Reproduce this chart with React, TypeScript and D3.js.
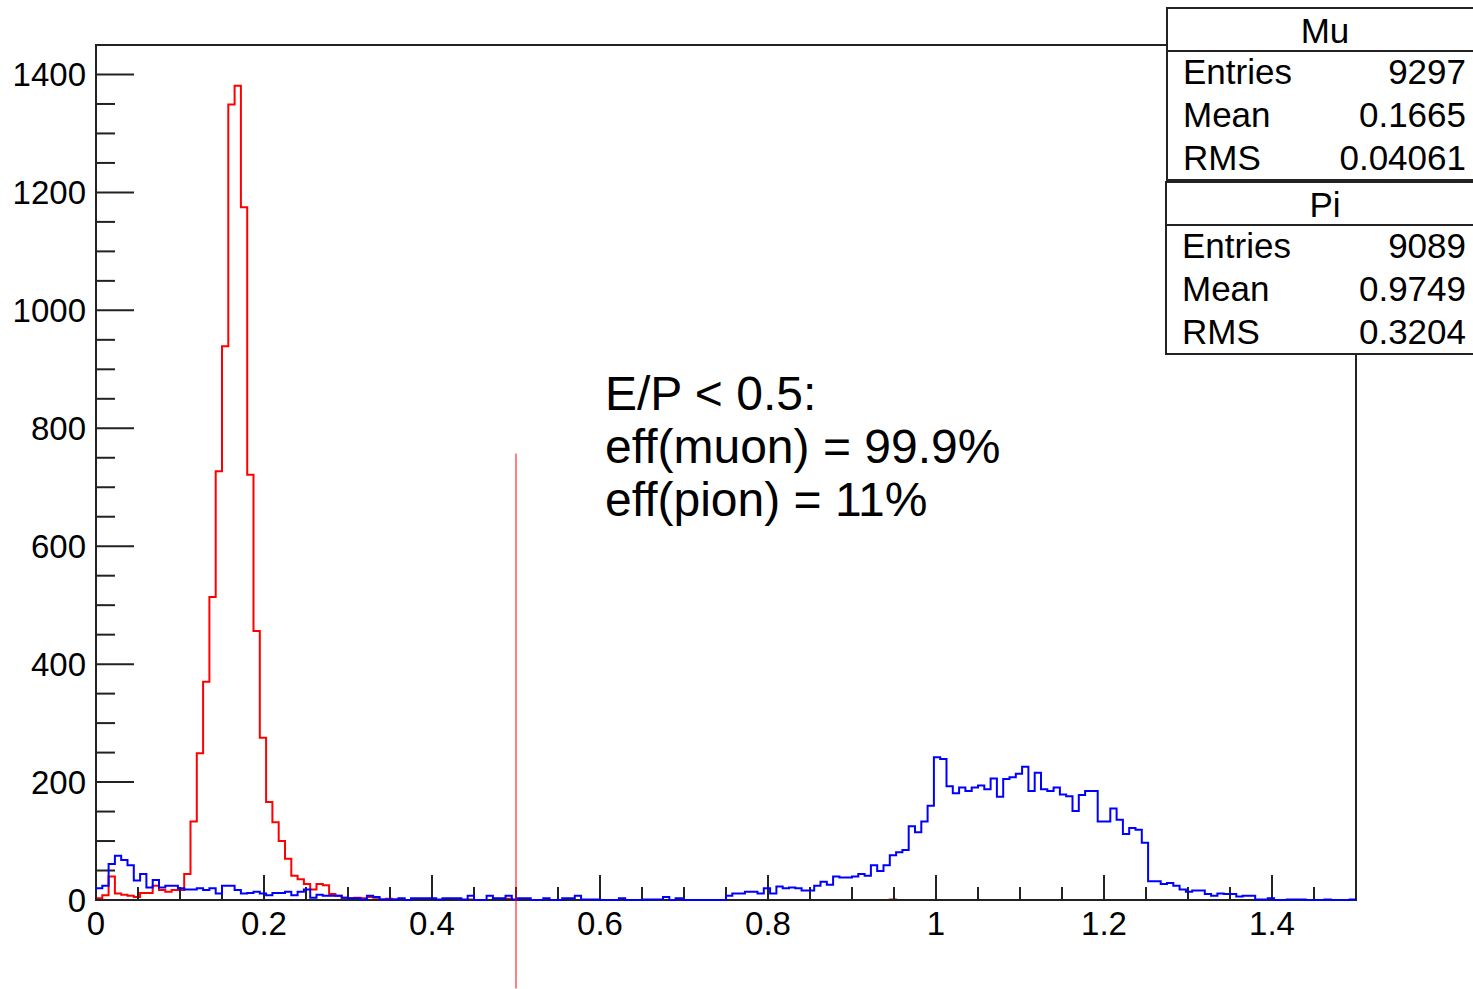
import React, { useEffect } from 'react';
import * as d3 from 'd3';

// E/P histograms, 200 bins from 0 to 1.5
const nBins = 200;
const xMin = 0;
const xMax = 1.5;
const yMax = 1450;

const muCounts = [
  3, 8, 40, 11, 9, 7, 5, 12, 12, 24,
  17, 14, 17, 17, 44, 133, 249, 370, 514, 727,
  939, 1349, 1381, 1175, 721, 456, 275, 166, 132, 100,
  70, 41, 35, 27, 18, 27, 25, 10, 7, 4,
  3, 4, 3, 5, 4, 1, 2, 1, 1, 0,
  1, 0, 1, 0, 0, 1, 0, 0, 0, 1,
  0, 0, 0, 2, 0, 2, 0, 0, 0, 0,
  0, 0, 0, 0, 0, 0, 0, 0, 0, 0,
  0, 0, 0, 0, 0, 0, 0, 0, 0, 0,
  0, 0, 0, 0, 0, 0, 0, 0, 0, 0,
  0, 0, 0, 0, 0, 0, 0, 0, 0, 0,
  0, 0, 0, 0, 0, 0, 0, 0, 0, 0,
  0, 0, 0, 0, 0, 0, 1, 0, 0, 0,
  0, 0, 0, 0, 0, 0, 0, 0, 0, 0,
  0, 0, 0, 0, 0, 0, 0, 0, 0, 0,
  0, 0, 0, 0, 0, 0, 0, 0, 0, 0,
  0, 0, 0, 0, 0, 0, 0, 0, 0, 0,
  0, 0, 0, 0, 0, 0, 0, 0, 0, 0,
  0, 0, 0, 0, 0, 0, 0, 0, 0, 0,
  0, 0, 0, 0, 0, 0, 0, 0, 0, 0,
];

const piCounts = [
  20, 24, 61, 75, 68, 59, 33, 44, 21, 34,
  21, 24, 24, 20, 18, 18, 20, 17, 20, 11,
  24, 24, 17, 11, 12, 14, 11, 8, 12, 12,
  14, 8, 14, 18, 4, 9, 7, 7, 7, 4,
  3, 3, 1, 7, 5, 1, 1, 1, 3, 0,
  3, 3, 3, 3, 1, 3, 3, 3, 1, 7,
  0, 0, 7, 3, 3, 7, 1, 3, 3, 0,
  0, 3, 0, 0, 3, 3, 7, 1, 1, 1,
  0, 0, 0, 3, 0, 0, 0, 1, 1, 1,
  5, 0, 3, 0, 0, 0, 0, 0, 0, 0,
  7, 11, 11, 14, 14, 11, 20, 11, 23, 20,
  21, 20, 16, 16, 24, 31, 26, 40, 38, 38,
  40, 44, 41, 59, 49, 59, 76, 81, 85, 125,
  115, 133, 160, 242, 239, 193, 181, 191, 185, 191,
  194, 188, 206, 175, 205, 208, 214, 226, 185, 216,
  188, 185, 191, 179, 176, 151, 178, 185, 185, 133,
  133, 155, 136, 112, 122, 119, 97, 32, 32, 27,
  29, 24, 18, 14, 16, 16, 10, 7, 11, 10,
  10, 6, 7, 7, 1, 1, 3, 0, 0, 1,
  1, 1, 0, 0, 0, 1, 0, 0, 0, 1,
];

const xTickValues = [0, 0.2, 0.4, 0.6, 0.8, 1, 1.2, 1.4];
const yTickValues = [0, 200, 400, 600, 800, 1000, 1200, 1400];

const statNames = ['Mu', 'Pi'];
const statEntries = ['9297', '9089'];
const statMeans = ['0.1665', '0.9749'];
const statRms = ['0.04061', '0.3204'];

const noteLines = ['E/P < 0.5:', 'eff(muon) = 99.9%', 'eff(pion) = 11%'];
const cutValue = 0.5;
const cutTop = 757;
const cutBottom = -150;

const W = 1473;
const H = 989;
const margin = { left: 96, right: 117, top: 45, bottom: 89 };
const font = '"Liberation Sans", Arial, sans-serif';
const axisColor = '#222';

const App = () => {
  useEffect(() => {
    document.body.style.margin = '0';
  }, []);

  const x = d3.scaleLinear().domain([xMin, xMax]).range([margin.left, W - margin.right]);
  const y = d3.scaleLinear().domain([0, yMax]).range([H - margin.bottom, margin.top]);
  const binW = (xMax - xMin) / nBins;

  const stepLine = d3.line<[number, number]>()
    .x(d => x(d[0]))
    .y(d => y(d[1]))
    .curve(d3.curveStepAfter);

  const histPath = (counts: number[]) => {
    const pts: [number, number][] = counts.map((c, i) => [xMin + i * binW, c]);
    pts.push([xMax, counts[counts.length - 1]]);
    return stepLine(pts) || '';
  };

  const xMinor = d3.range(0, xMax + 1e-9, 0.05);
  const yMinor = d3.range(0, yMax + 1e-9, 50);
  const x0 = x(xMin);
  const x1 = x(xMax);
  const y0 = y(0);
  const y1 = y(yMax);

  // stats box layout
  const boxLeft = 1167;
  const boxH = 172;
  const headH = 43;
  const rowH = 43;

  return (
    <svg width={W} height={H} style={{ display: 'block', background: '#fff' }} fontFamily={font}>
      {/* muon histogram under the axes, so empty bins hide in the axis line */}
      <path d={histPath(muCounts)} fill="none" stroke="#ff0000" strokeWidth={2} />

      {/* frame */}
      <rect x={x0} y={y1} width={x1 - x0} height={y0 - y1} fill="none" stroke={axisColor} strokeWidth={2} />

      {/* y ticks */}
      {yMinor.map(v => {
        const major = v % 200 === 0;
        return (
          <line key={'ym' + v} x1={x0} x2={x0 + (major ? 38 : 19)} y1={y(v)} y2={y(v)}
            stroke={axisColor} strokeWidth={2} />
        );
      })}
      {yTickValues.map(v => (
        <text key={'yl' + v} x={x0 - 10} y={y(v)} dy="0.36em" textAnchor="end" fontSize={33} fill="#000">
          {v}
        </text>
      ))}

      {/* x ticks */}
      {xMinor.map((v, i) => {
        const major = i % 4 === 0;
        return (
          <line key={'xm' + i} x1={x(v)} x2={x(v)} y1={y0} y2={y0 - (major ? 25 : 13)}
            stroke={axisColor} strokeWidth={2} />
        );
      })}
      {xTickValues.map(v => (
        <text key={'xl' + v} x={x(v)} y={y0 + 35} textAnchor="middle" fontSize={33} fill="#000">
          {d3.format('~g')(v)}
        </text>
      ))}

      {/* pion histogram */}
      <path d={histPath(piCounts)} fill="none" stroke="#0000ff" strokeWidth={2} />

      {/* cut line */}
      <line x1={x(cutValue)} x2={x(cutValue)} y1={y(cutTop)} y2={y(cutBottom)} stroke="#ff0000" strokeWidth={1} />

      {/* annotation */}
      {noteLines.map((t, i) => (
        <text key={'n' + i} x={605} y={410 + i * 53} fontSize={48} fill="#000">{t}</text>
      ))}

      {/* stats boxes */}
      {statNames.map((name, i) => {
        const top = 8 + i * (boxH + 2);
        const left = boxLeft - i;
        const rows = [
          ['Entries', statEntries[i]],
          ['Mean', statMeans[i]],
          ['RMS', statRms[i]],
        ];
        return (
          <g key={name}>
            <rect x={left} y={top} width={W - left + 10} height={boxH} fill="#fff" stroke={axisColor} strokeWidth={2} />
            <line x1={left} x2={W} y1={top + headH} y2={top + headH} stroke={axisColor} strokeWidth={2} />
            <text x={1325} y={top + 35} textAnchor="middle" fontSize={35} fill="#000">{name}</text>
            {rows.map((r, j) => (
              <g key={r[0]}>
                <text x={left + 16} y={top + headH + 33 + j * rowH} fontSize={35} fill="#000">{r[0]}</text>
                <text x={W - 7} y={top + headH + 33 + j * rowH} textAnchor="end" fontSize={35} fill="#000">{r[1]}</text>
              </g>
            ))}
          </g>
        );
      })}
    </svg>
  );
};

export default App;
